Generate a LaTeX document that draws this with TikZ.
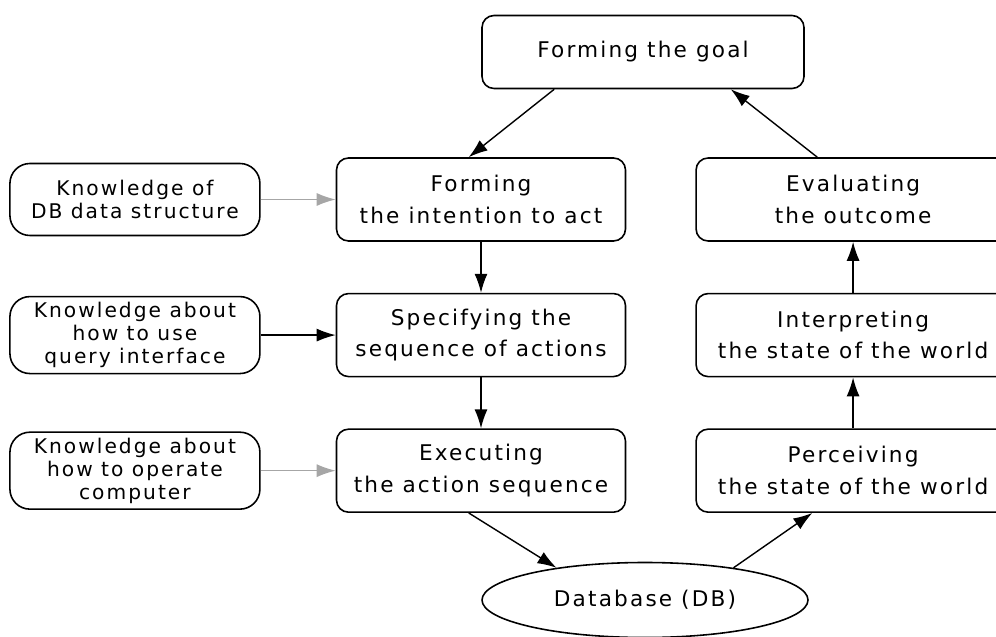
\documentclass[tikz,border=0pt]{standalone}
\usepackage{fontspec}
\setmainfont[LetterSpace=10]{DejaVu Sans}
\usetikzlibrary{positioning, arrows.meta, shapes.geometric}

\begin{document}
\begin{tikzpicture}[
        node distance=1.02cm,
        stage/.style={rectangle, draw, line width=0.9pt, rounded corners=0.24cm, minimum width=5.78cm, minimum height=1.66cm, align=center, font=\fontsize{12.3}{18}\selectfont},
        wide stage/.style={stage, minimum width=6.28cm},
        knowbox/.style={rectangle, draw, line width=0.9pt, rounded corners=0.4cm, minimum width=5cm, minimum height=1.44cm, align=center, font=\fontsize{11.5}{13}\selectfont},
        store/.style={ellipse, draw, line width=0.9pt, minimum width=6.52cm, minimum height=1.5cm, font=\fontsize{12.3}{14}\selectfont},
        arrow/.style={-{Latex[length=3.8mm,width=2.6mm]}, line width=0.8pt},
        feed/.style={arrow, draw=gray!70}
    ]
    \useasboundingbox (0,0) rectangle (19.92,-12.74);
    \clip (0,0) rectangle (19.92,-12.74);
    % top
    \node[stage, minimum width=6.44cm, minimum height=1.46cm] (goal) at (12.86,-1.04) {Forming the goal};
    
    % middle column
    \node[stage] (intent) at (9.62,-3.99) {Forming\\the intention to act};
    \node[stage, below=of intent] (specify) {Specifying the\\sequence of actions};
    \node[stage, below=of specify] (execute) {Executing\\the action sequence};
    
    % right column
    \node[wide stage, right=1.38cm of intent] (evaluate) {Evaluating\\the outcome};
    \node[wide stage, below=of evaluate] (interpret) {Interpreting\\the state of the world};
    \node[wide stage, below=of interpret] (perceive) {Perceiving\\the state of the world};
    
    % left column
    \node[knowbox, left=1.5cm of intent] (kstruct) {Knowledge of\\DB data structure};
    \node[knowbox, left=1.5cm of specify] (kquery) {Knowledge about\\how to use\\query interface};
    \node[knowbox, left=1.5cm of execute] (kcomp) {Knowledge about\\how to operate\\computer};
    
    % bottom
    \node[store] (db) at (12.9,-12.0) {Database (DB)};
    
    % arrows
    \draw[arrow] ([xshift=1.46cm]goal.south west) -- ([xshift=2.66cm]intent.north west);
    \draw[arrow] (intent) -- (specify);
    \draw[arrow] (specify) -- (execute);
    \draw[arrow] ([xshift=2.66cm]execute.south west) -- (db.160);
    \draw[arrow] (db.20) -- ([xshift=2.34cm]perceive.south west);
    \draw[arrow] (perceive) -- (interpret);
    \draw[arrow] (interpret) -- (evaluate);
    \draw[arrow] ([xshift=2.44cm]evaluate.north west) -- ([xshift=-1.48cm]goal.south east);
    \draw[feed] (kstruct) -- (intent);
    \draw[arrow] (kquery) -- (specify);
    \draw[feed] (kcomp) -- (execute);
\end{tikzpicture}
\end{document}
